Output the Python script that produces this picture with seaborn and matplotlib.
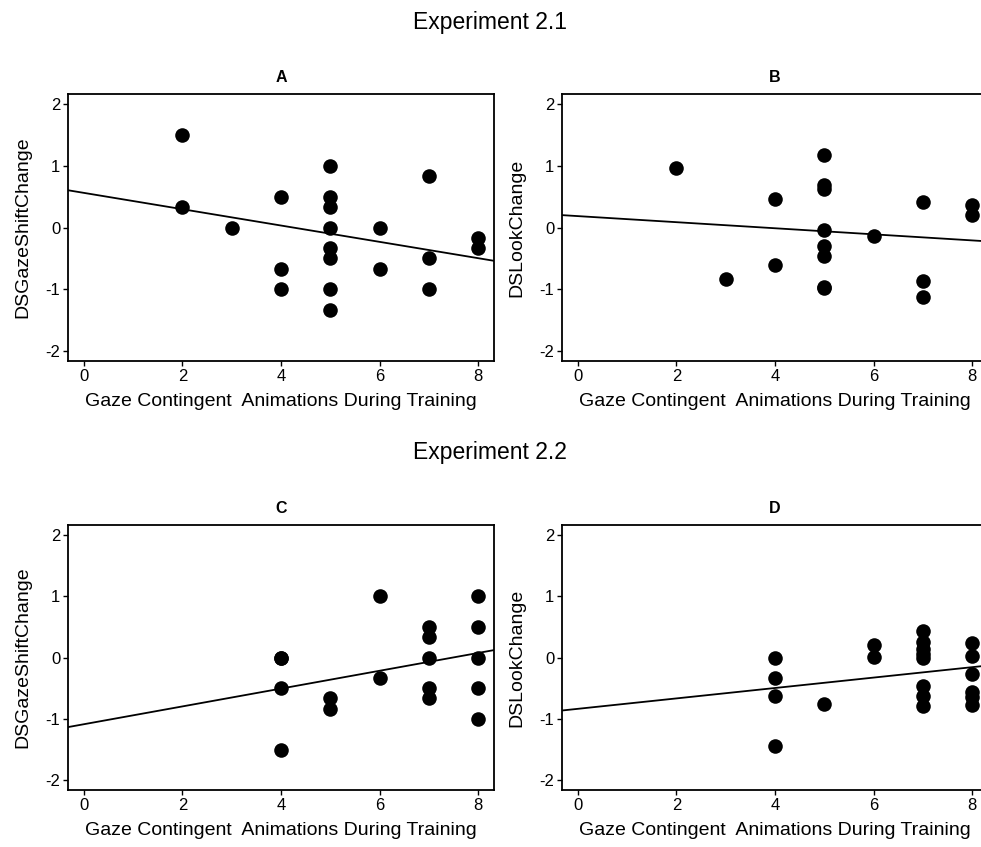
import matplotlib
matplotlib.use("Agg")
import matplotlib.pyplot as plt
import seaborn as sns
import pandas as pd

# ---- data ----
a_x = [2, 2, 3, 4, 4, 4, 5, 5, 5, 5, 5, 5, 5, 5, 6, 6, 7, 7, 7, 8, 8]
a_y = [1.5, 0.333, 0.0, 0.5, -0.667, -1.0, 1.0, 0.5, 0.333, 0.0, -0.333, -0.5, -1.0, -1.333,
       0.0, -0.667, 0.833, -0.5, -1.0, -0.167, -0.333]

b_x = [2, 3, 4, 4, 5, 5, 5, 5, 5, 5, 5, 5, 6, 7, 7, 7, 8, 8]
b_y = [0.96, -0.83, 0.46, -0.61, 1.18, 0.69, 0.62, -0.04, -0.30, -0.46, -0.96, -0.98,
       -0.13, 0.42, -0.87, -1.12, 0.36, 0.21]

c_x = [4, 4, 4, 4, 5, 5, 6, 6, 7, 7, 7, 7, 7, 8, 8, 8, 8, 8]
c_y = [0.0, 0.0, -0.5, -1.5, -0.667, -0.833, 1.0, -0.333, 0.5, 0.333, 0.0, -0.5, -0.667,
       1.0, 0.5, 0.0, -0.5, -1.0]

d_x = [4, 4, 4, 4, 5, 6, 6, 7, 7, 7, 7, 7, 7, 7, 7, 8, 8, 8, 8, 8, 8]
d_y = [0.0, -0.33, -0.63, -1.44, -0.76, 0.21, 0.01, 0.43, 0.26, 0.14, 0.06, -0.01,
       -0.46, -0.63, -0.79, 0.23, 0.02, -0.27, -0.56, -0.64, -0.78]

x_ticks = [0, 2, 4, 6, 8]
y_ticks = [-2, -1, 0, 1, 2]
x_label = "Gaze Contingent  Animations During Training"
panel_titles = ["A", "B", "C", "D"]
y_labels = ["DSGazeShiftChange", "DSLookChange", "DSGazeShiftChange", "DSLookChange"]
section_titles = ["Experiment 2.1", "Experiment 2.2"]

sns.set_style("ticks")
plt.rcParams["font.family"] = ["Liberation Sans", "DejaVu Sans"]
plt.rcParams["axes.unicode_minus"] = False
plt.rcParams["text.color"] = "black"
plt.rcParams["axes.labelcolor"] = "black"
plt.rcParams["xtick.color"] = "black"
plt.rcParams["ytick.color"] = "black"

fig = plt.figure(figsize=(9.81, 8.47), dpi=100)
W, H = 981, 847

def add_ax(left, top, right, bottom):
    return fig.add_axes([left / W, 1 - bottom / H, (right - left) / W, (bottom - top) / H])

axes = [
    add_ax(68, 94, 494, 361),
    add_ax(562, 94, 988, 361),
    add_ax(68, 525, 494, 790),
    add_ax(562, 525, 988, 790),
]

datasets = [(a_x, a_y), (b_x, b_y), (c_x, c_y), (d_x, d_y)]

for ax, (xs, ys), ttl, yl in zip(axes, datasets, panel_titles, y_labels):
    df = pd.DataFrame({"x": xs, "y": ys})
    ax.set_xlim(-0.32, 8.32)
    ax.set_ylim(-2.16, 2.16)
    sns.regplot(data=df, x="x", y="y", ax=ax, ci=None, truncate=False,
                scatter_kws=dict(s=110, color="black", alpha=1, linewidths=0),
                line_kws=dict(color="black", lw=1.3))
    ax.set_xlim(-0.32, 8.32)
    ax.set_ylim(-2.16, 2.16)
    ax.set_xticks(x_ticks)
    ax.set_yticks(y_ticks)
    ax.tick_params(axis="both", direction="out", length=3.5, width=1.0,
                   labelsize=12, color="black", labelcolor="black", pad=2)
    for sp in ax.spines.values():
        sp.set_visible(True)
        sp.set_linewidth(1.3)
        sp.set_color("black")
    ax.set_xlabel(x_label, fontsize=14, labelpad=7, color="black")
    ax.set_ylabel(yl, fontsize=14, labelpad=10, color="black")
    ax.set_title(ttl, fontsize=11.5, fontweight="bold", pad=9, color="black")
    ax.grid(False)

fig.text(490 / W, 1 - 22 / H, section_titles[0], ha="center", va="center", fontsize=16.5, color="black")
fig.text(490 / W, 1 - 452 / H, section_titles[1], ha="center", va="center", fontsize=16.5, color="black")

fig.savefig("out.png", dpi=100, facecolor="white")
